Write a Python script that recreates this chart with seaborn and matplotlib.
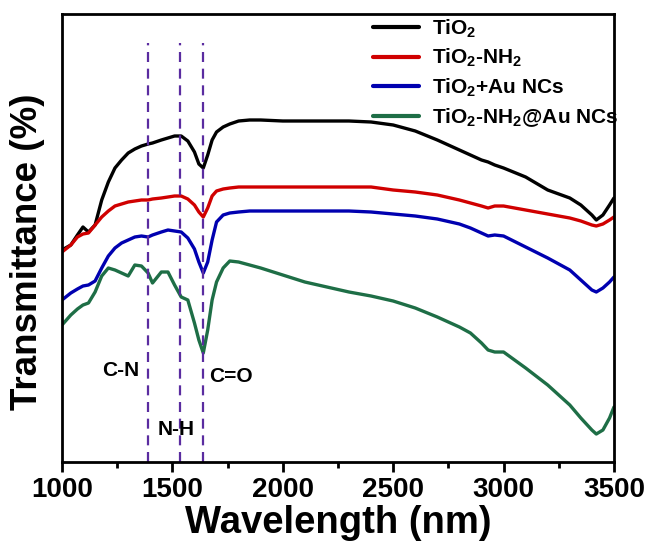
import numpy as np
import pandas as pd
import matplotlib
matplotlib.use("Agg")
import matplotlib.pyplot as plt
from matplotlib.ticker import MultipleLocator
import seaborn as sns

# wavelength grid (nm) and transmittance (arbitrary units)
wavelength = [1000, 1040, 1070, 1095, 1120, 1150, 1180, 1210, 1240, 1270, 1300, 1330,
              1360, 1390, 1410, 1450, 1480, 1510, 1540, 1570, 1600, 1620, 1640, 1660,
              1680, 1700, 1730, 1760, 1800, 1850, 1900, 2000, 2100, 2200, 2300, 2400,
              2500, 2600, 2700, 2800, 2850, 2900, 2930, 2960, 3000, 3100, 3200, 3300,
              3350, 3400, 3420, 3450, 3480, 3500]

tio2 = [212, 217, 227, 235, 230, 237, 262, 280, 294, 302, 309, 313,
        316, 318, 319, 322, 324, 326, 326, 321, 310, 298, 294, 307,
        322, 330, 335, 338, 341, 342, 342, 341, 341, 341, 341, 340,
        337, 331, 322, 312, 307, 302, 300, 297, 294, 285, 272, 264,
        257, 247, 242, 247, 257, 264]

tio2_nh2 = [210, 217, 225, 228, 229, 237, 245, 251, 256, 258, 260, 261,
            262, 262, 263, 264, 265, 266, 266, 263, 257, 250, 245, 254,
            266, 271, 273, 274, 275, 275, 275, 275, 275, 275, 275, 275,
            272, 270, 267, 262, 259, 256, 254, 256, 256, 252, 248, 244,
            241, 237, 236, 238, 242, 245]

tio2_au = [162, 169, 173, 176, 177, 181, 194, 206, 214, 219, 222, 225,
           226, 225, 227, 230, 232, 231, 230, 224, 213, 200, 189, 200,
           222, 240, 247, 249, 250, 251, 251, 251, 251, 251, 251, 250,
           248, 246, 243, 238, 234, 229, 226, 227, 226, 215, 204, 192,
           182, 172, 170, 174, 180, 185]

tio2_nh2_au = [137, 147, 153, 157, 159, 170, 186, 194, 192, 189, 186, 197,
               196, 189, 179, 190, 190, 177, 165, 162, 139, 122, 109, 132,
               162, 180, 194, 201, 200, 197, 194, 187, 180, 175, 170, 166,
               161, 154, 145, 135, 129, 119, 112, 110, 110, 94, 77, 57,
               44, 32, 28, 32, 44, 55]

series_names = ["TiO$_2$", "TiO$_2$-NH$_2$", "TiO$_2$+Au NCs", "TiO$_2$-NH$_2$@Au NCs"]
series_colors = ["#000000", "#d00000", "#0000b0", "#1e6e46"]

band_positions = [1390, 1535, 1640]
band_labels = ["C-N", "N-H", "C=O"]

df = pd.DataFrame({
    "wavelength": wavelength * 4,
    "transmittance": tio2 + tio2_nh2 + tio2_au + tio2_nh2_au,
    "sample": np.repeat(series_names, len(wavelength)),
})

sns.set_theme(style="ticks")
plt.rcParams["font.family"] = ["Liberation Sans", "DejaVu Sans"]
plt.rcParams["font.weight"] = "bold"
plt.rcParams["text.color"] = "black"
plt.rcParams["axes.labelcolor"] = "black"
plt.rcParams["xtick.color"] = "black"
plt.rcParams["mathtext.fontset"] = "custom"
plt.rcParams["mathtext.rm"] = "Liberation Sans:bold"
plt.rcParams["mathtext.it"] = "Liberation Sans:bold"
plt.rcParams["mathtext.bf"] = "Liberation Sans:bold"
plt.rcParams["mathtext.default"] = "bf"

fig = plt.figure(figsize=(6.49, 5.51), dpi=100)
ax = fig.add_axes([0.0955, 0.1615, 0.8505, 0.8131])

sns.lineplot(data=df, x="wavelength", y="transmittance", hue="sample",
             hue_order=series_names, palette=series_colors, linewidth=2.4,
             sort=False, ax=ax)

# band markers
for xb in band_positions:
    ax.plot([xb, xb], [0, 419], color="#5a2ca0", linestyle=(0, (4.5, 3)), linewidth=1.6)

ax.text(1265, 92, band_labels[0], fontsize=15, fontweight="bold", ha="center", va="center")
ax.text(1515, 33, band_labels[1], fontsize=15, fontweight="bold", ha="center", va="center")
ax.text(1765, 86, band_labels[2], fontsize=15, fontweight="bold", ha="center", va="center")

ax.set_xlim(1000, 3500)
ax.set_ylim(0, 448)
ax.xaxis.set_major_locator(MultipleLocator(500))
ax.xaxis.set_minor_locator(MultipleLocator(250))
ax.set_yticks([])
ax.tick_params(axis="x", which="major", direction="out", length=7, width=2,
               labelsize=20, pad=4)
ax.tick_params(axis="x", which="minor", direction="out", length=4, width=2)
for lab in ax.get_xticklabels():
    lab.set_fontweight("bold")
for sp in ax.spines.values():
    sp.set_linewidth(2)
    sp.set_color("black")

ax.set_xlabel("Wavelength (nm)", fontsize=27.5, fontweight="bold", labelpad=1)
ax.set_ylabel("Transmittance (%)", fontsize=26.5, fontweight="bold")
ax.yaxis.set_label_coords(-0.03, 0.47)

leg = ax.legend(loc="upper right", bbox_to_anchor=(1.03, 1.02), frameon=False,
                fontsize=15, handlelength=2.2, handletextpad=0.6,
                labelspacing=0.35, borderaxespad=0.2)
for line in leg.get_lines():
    line.set_linewidth(3)

fig.savefig("out.png", dpi=100)
